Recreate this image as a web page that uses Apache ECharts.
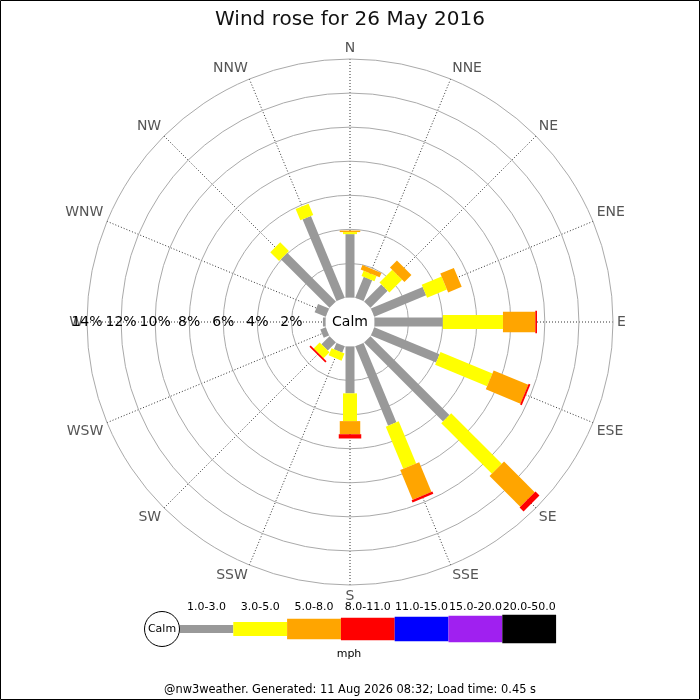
<!DOCTYPE html>
<html>
<head>
<meta charset="utf-8">
<script src="https://cdn.jsdelivr.net/npm/echarts@6/dist/echarts.min.js"></script>
<style>
html,body{margin:0;padding:0;background:#fff;}
#chart{width:700px;height:700px;}
</style>
</head>
<body>
<div id="chart"></div>
<script>
// ---- data ----
const directions = ['N','NNE','NE','ENE','E','ESE','SE','SSE','S','SSW','SW','WSW','W','WNW','NW','NNW'];
const speedLabels = ['1.0-3.0','3.0-5.0','5.0-8.0','8.0-11.0','11.0-15.0','15.0-20.0','20.0-50.0'];
const radiusTicks = [0, 14, 2]; // min, max, interval (%)
// frequency (%) per direction, per speed class
const speed1to3   = [3.72,1.32,1.42,3.29,4.01,4.14,6.55,5.04,2.75,0.40,0.67,0.34,0.15,0.70,4.04,5.19];
const speed3to5   = [0.12,0.33,1.06,1.26,3.53,3.30,4.20,2.68,1.63,0.45,0.50,0,0,0,0.73,0.72];
const speed5to8   = [0.09,0.28,0.58,0.86,1.90,2.20,2.55,1.89,0.77,0,0,0,0,0,0,0];
const speed8to11  = [0,0,0,0,0.10,0.11,0.33,0.14,0.25,0,0.10,0,0,0,0,0];
const speed11to15 = [0,0,0,0,0,0,0,0,0,0,0,0,0,0,0,0];
const speed15to20 = [0,0,0,0,0,0,0,0,0,0,0,0,0,0,0,0];
const speed20to50 = [0,0,0,0,0,0,0,0,0,0,0,0,0,0,0,0];
const titleText = 'Wind rose for 26 May 2016';
const footerText = '@nw3weather. Generated: 11 Aug 2026 08:32; Load time: 0.45 s';

// ---- styles ----
const speedColors = ['#999999','#ffff00','#ffa500','#ff0000','#0000ff','#a020f0','#000000'];
const barWidths = [9, 14, 20.5, 22.5, 24.5, 26.5, 28.5];
const legendHeights = [8, 14, 20.5, 22.5, 24.5, 26.5, 28.5];
const FONT = 'DejaVu Sans';
const CX = 350, CY = 322;

const allSeries = [speed1to3, speed3to5, speed5to8, speed8to11, speed11to15, speed15to20, speed20to50];
// W is the axis start (value 0), clockwise
function dirToAngle(d){ return ((d - 12 + 16) % 16) * 22.5; }

const series = [];
const cum = directions.map(() => 0);
allSeries.forEach((vals, k) => {
  const data = [];
  vals.forEach((v, d) => {
    const start = cum[d];
    const end = start + v;
    cum[d] = end;
    if (v > 0) data.push([start, dirToAngle(d), end]);
  });
  series.push({
    type: 'custom',
    name: speedLabels[k],
    coordinateSystem: 'polar',
    z: 20,
    silent: true,
    data: data,
    renderItem: function(params, api){
      const r0 = api.value(0), a = api.value(1), r1 = api.value(2);
      const p0 = api.coord([r0, a]);
      const p1 = api.coord([r1, a]);
      const c = api.coord([radiusTicks[0], a]);
      const f = api.coord([radiusTicks[1], a]);
      let ux = f[0]-c[0], uy = f[1]-c[1];
      const L = Math.sqrt(ux*ux+uy*uy); ux/=L; uy/=L;
      const nx = -uy * barWidths[k]/2, ny = ux * barWidths[k]/2;
      return {
        type: 'polygon',
        shape: { points: [[p0[0]+nx,p0[1]+ny],[p1[0]+nx,p1[1]+ny],[p1[0]-nx,p1[1]-ny],[p0[0]-nx,p0[1]-ny]] },
        style: { fill: speedColors[k], stroke: null }
      };
    }
  });
});

// decorations and legend
const graphics = [];
graphics.push({ type:'rect', shape:{x:0.5,y:0.5,width:699,height:699}, style:{fill:'none', stroke:'#000', lineWidth:1}, z:100, silent:true });
graphics.push({ type:'circle', shape:{cx:CX, cy:CY, r:24.8}, style:{fill:'#fff', stroke:null}, z:10, silent:true });
graphics.push({ type:'text', x:CX, y:CY, style:{text:'Calm', font:'14px "'+FONT+'"', fill:'#000', textAlign:'center', textVerticalAlign:'middle'}, z:30, silent:true });
const LX0 = 179.5, LSEG = 53.8, LY = 629;
graphics.push({ type:'circle', shape:{cx:162, cy:LY, r:17.5}, style:{fill:'#fff', stroke:'#000', lineWidth:1}, z:30 });
graphics.push({ type:'text', x:162, y:LY, style:{text:'Calm', font:'11px "'+FONT+'"', fill:'#000', textAlign:'center', textVerticalAlign:'middle'}, z:31 });
speedLabels.forEach((lab, k) => {
  const h = legendHeights[k];
  graphics.push({ type:'rect', shape:{x:LX0+k*LSEG, y:LY-h/2, width:LSEG, height:h}, style:{fill:speedColors[k]}, z:29 });
  graphics.push({ type:'text', x:LX0+k*LSEG+LSEG/2, y:607, style:{text:lab, font:'11px "'+FONT+'"', fill:'#000', textAlign:'center', textVerticalAlign:'middle'}, z:31 });
});
graphics.push({ type:'text', x:349, y:654, style:{text:'mph', font:'11px "'+FONT+'"', fill:'#000', textAlign:'center', textVerticalAlign:'middle'}, z:31 });
graphics.push({ type:'text', x:350, y:690, style:{text:footerText, font:'11.4px "'+FONT+'"', fill:'#000', textAlign:'center', textVerticalAlign:'middle'}, z:31 });

const chart = echarts.init(document.getElementById('chart'), null, {renderer:'canvas'});
chart.setOption({
  animation: false,
  backgroundColor: '#fff',
  textStyle: { fontFamily: FONT },
  title: { text: titleText, left: 'center', top: 5, textStyle: { fontFamily: FONT, fontSize: 20, fontWeight: 'normal', color: '#111' } },
  polar: { center: [CX, CY], radius: [24.5, 263] },
  angleAxis: {
    type: 'value', min: 0, max: 360, interval: 22.5, startAngle: 180, clockwise: true,
    axisLine: { show: false },
    axisTick: { show: false },
    axisLabel: {
      margin: 4, color: '#555', fontSize: 14, fontFamily: FONT,
      formatter: function(v){ if (v >= 360) return ''; return directions[(Math.round(v/22.5) + 12) % 16]; }
    },
    splitLine: { show: true, lineStyle: { color: '#333', width: 1, type: [1, 2] } }
  },
  radiusAxis: {
    type: 'value', min: radiusTicks[0], max: radiusTicks[1], interval: radiusTicks[2],
    axisLine: { show: false },
    axisTick: { show: false },
    axisLabel: {
      margin: 0, color: '#000', fontSize: 14, fontFamily: FONT, verticalAlign: 'middle', align: 'center',
      formatter: function(v){ return v === 0 ? '' : v + '%'; }
    },
    splitLine: { show: true, lineStyle: { color: '#aaa', width: 1 } },
    z: 5
  },
  graphic: graphics,
  series: series
});
</script>
</body>
</html>
